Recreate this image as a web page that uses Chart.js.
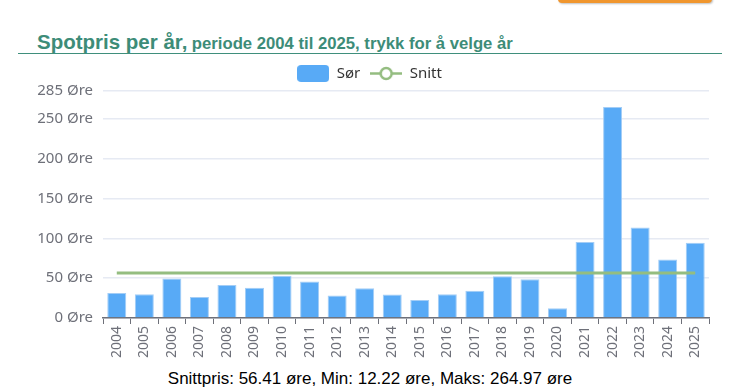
<!DOCTYPE html>
<html>
<head>
    <title>Spotpris per år</title>
    <script src="https://cdn.jsdelivr.net/npm/chart.js"></script>
    <style>
        body { margin: 0; background: #fff; width: 731px; height: 390px; overflow: hidden; position: relative; font-family: "Liberation Sans", Arial, sans-serif; }
        #btn { position: absolute; left: 558px; top: -10px; width: 154px; height: 13px; background: #f0962e; border-radius: 0 0 4px 4px; box-shadow: 1px 1px 2px rgba(0,0,0,0.25); }
        #title { position: absolute; left: 18px; top: 30px; width: 704px; height: 23px; border-bottom: 1.5px solid #3f8f7c; color: #3d8c78; font-weight: bold; line-height: 23px; }
        #title .big { font-size: 20.5px; margin-left: 19px; }
        #title .small { font-size: 16.7px; }
        #wrap { position: absolute; left: 0; top: 56px; width: 731px; height: 310px; }
        #info { position: absolute; left: 0; width: 740px; top: 369px; text-align: center; font-size: 17px; color: #000; }
    </style>
</head>
<body>
<div id="btn"></div>
<div id="title"><span class="big">Spotpris per år,</span> <span class="small">periode 2004 til 2025, trykk for å velge år</span></div>
<div id="wrap"><canvas id="spotChart"></canvas></div>
<div id="info">Snittpris: 56.41 øre, Min: 12.22 øre, Maks: 264.97 øre</div>
<script>
    const years = ['2004','2005','2006','2007','2008','2009','2010','2011','2012','2013','2014',
                   '2015','2016','2017','2018','2019','2020','2021','2022','2023','2024','2025'];
    const sorPris = [31.3, 29.7, 49.6, 26.4, 41.3, 38.0, 52.9, 45.8, 28.1, 37.2, 29.4,
                     22.7, 29.7, 34.3, 52.4, 48.7, 12.22, 95.4, 264.97, 113.6, 73.5, 94.5];
    const snittPris = 56.41;
    const snittLinje = years.map(() => snittPris);
    const yTicksMax = 285;

    const barColor = '#58aaf6';
    const lineColor = '#94bd80';

    // legend icons drawn as small canvases
    function barIcon() {
        const c = document.createElement('canvas');
        c.width = 32; c.height = 17;
        const g = c.getContext('2d');
        g.fillStyle = barColor;
        g.beginPath();
        g.roundRect(0, 0, 32, 17, 4);
        g.fill();
        return c;
    }
    function lineIcon() {
        const c = document.createElement('canvas');
        c.width = 32; c.height = 17;
        const g = c.getContext('2d');
        g.strokeStyle = lineColor;
        g.lineWidth = 2.5;
        g.beginPath(); g.moveTo(0, 8.5); g.lineTo(32, 8.5); g.stroke();
        g.fillStyle = '#fff';
        g.beginPath(); g.arc(16, 8.5, 5.5, 0, Math.PI * 2); g.fill(); g.stroke();
        return c;
    }
    const icons = [barIcon(), lineIcon()];

    const ctx = document.getElementById('spotChart').getContext('2d');
    const chart = new Chart(ctx, {
        type: 'bar',
        data: {
            labels: years,
            datasets: [{
                label: 'Sør',
                data: sorPris,
                backgroundColor: barColor,
                borderColor: '#a3cdf6',
                borderWidth: 1,
                borderSkipped: 'bottom',
                barPercentage: 0.69,
                categoryPercentage: 1.0,
                order: 2
            }, {
                label: 'Snitt',
                type: 'line',
                data: snittLinje,
                borderColor: lineColor,
                borderWidth: 3,
                pointRadius: 0,
                fill: false,
                order: 1
            }]
        },
        options: {
            responsive: true,
            maintainAspectRatio: false,
            animation: false,
            layout: { padding: { left: 30, right: 22, top: 0, bottom: 0 } },
            plugins: {
                tooltip: { enabled: false },
                legend: {
                    position: 'top',
                    labels: {
                        usePointStyle: true,
                        pointStyleWidth: 32,
                        boxHeight: 17,
                        color: '#333',
                        padding: 10,
                        font: { family: 'Noto Sans', size: 15 },
                        generateLabels: function (ch) {
                            return ch.data.datasets.map((ds, i) => ({
                                text: ds.label,
                                pointStyle: icons[i],
                                fillStyle: 'transparent',
                                strokeStyle: 'transparent',
                                lineWidth: 0,
                                fontColor: '#333',
                                datasetIndex: i
                            }));
                        }
                    }
                }
            },
            scales: {
                x: {
                    offset: true,
                    grid: { offset: true, drawOnChartArea: false, drawTicks: true, tickLength: 6, color: '#6e7079' },
                    border: { color: '#6e7079', width: 1.5 },
                    ticks: {
                        minRotation: 90, maxRotation: 90, autoSkip: false,
                        color: '#6e7079', padding: 2,
                        font: { family: 'Noto Sans', size: 14 }
                    },
                    afterFit: function (axis) { axis.height = 48; }
                },
                y: {
                    min: 0,
                    max: yTicksMax,
                    ticks: {
                        stepSize: 50,
                        color: '#6e7079',
                        padding: 10,
                        font: { family: 'Noto Sans', size: 15 },
                        callback: v => v + ' Øre'
                    },
                    grid: { color: '#e6eaf3', drawTicks: false, lineWidth: 1.5 },
                    border: { display: false },
                    afterFit: function (axis) { axis.width = 73; }
                }
            }
        }
    });
</script>
</body>
</html>
